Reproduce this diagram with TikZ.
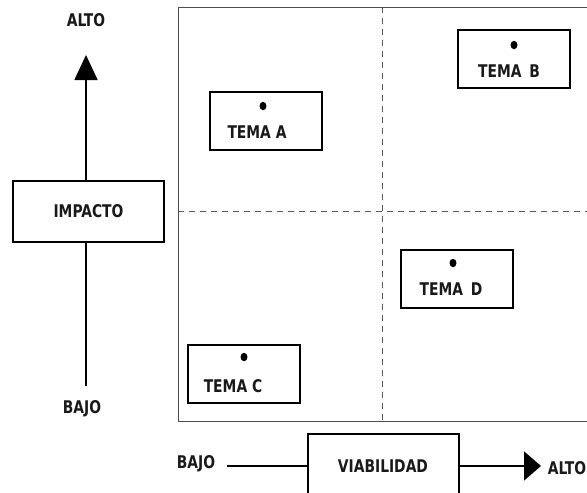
\documentclass[tikz,border=0pt]{standalone}
\usepackage{fontspec}
\setmainfont{DejaVu Sans Condensed}[FakeStretch=0.88]
\usetikzlibrary{arrows.meta,shapes.geometric}
\begin{document}
\begin{tikzpicture}[x=1pt,y=-1pt,
  lbl/.style={font=\fontsize{17.5}{19}\selectfont\bfseries, text=black!90, inner sep=0pt},
  tbox/.style={draw, line width=2pt, minimum width=112pt, minimum height=58pt, inner sep=0pt},
  axbox/.style={draw, line width=2pt, minimum width=151pt, inner sep=0pt},
  axline/.style={line width=1.7pt},
  grid/.style={line width=1pt, black!65, dash pattern=on 6pt off 5pt},
  dotm/.style={ellipse, fill=black, inner sep=0pt, minimum width=7pt, minimum height=8.5pt}]
\useasboundingbox (0,0) rectangle (587,493);
\clip (0,0) rectangle (587,493);
% frame
\draw[line width=1pt, black!70] (178,7) rectangle (600,421);
\draw[grid] (382,7) -- (382,421);
\draw[grid] (178,211) -- (590,211);
% tema boxes
\node[tbox] (ta) at (266,121) {};
\node[dotm] (tad) at (263,106) {};
\node[lbl] (tat) at (257,132) {TEMA A};
\node[tbox] (tb) at (514,58.5) {};
\node[dotm] (tbd) at (514,45) {};
\node[lbl] (tbt) at (509,71) {TEMA\, B};
\node[tbox] (td) at (456.5,278.5) {};
\node[dotm] (tdd) at (453,263) {};
\node[lbl] (tdt) at (451,289) {TEMA\, D};
\node[tbox] (tc) at (243.5,373.5) {};
\node[dotm] (tcd) at (244,357) {};
\node[lbl] (tct) at (233,386) {TEMA C};
% impacto axis
\node[axbox, minimum height=61pt, lbl, draw, line width=2pt] (imp) at (88.5,211.5) {IMPACTO};
\coordinate (itop) at (86,55);
\coordinate (ibot) at (86,386);
\draw[axline, -{Triangle[length=25pt,width=23pt]}] (86,181) -- (itop);
\draw[axline] (86,242) -- (ibot);
\node[lbl] (ialto) at (86,20) {ALTO};
\node[lbl] (ibajo) at (82,409) {BAJO};
% viabilidad axis
\node[axbox, minimum height=66pt, lbl, draw, line width=2pt] (via) at (383.5,467) {};
\node[lbl] (viat) at (383,466) {VIABILIDAD};
\coordinate (vl) at (227,466);
\coordinate (vr) at (541,466);
\draw[axline] (vl) -- (via.west |- vl);
\draw[axline, -{Triangle[length=17pt,width=29pt]}] (via.east |- vr) -- (vr);
\node[lbl] (vbajo) at (196,464) {BAJO};
\node[lbl] (valto) at (567,468) {ALTO};
\end{tikzpicture}
\end{document}
